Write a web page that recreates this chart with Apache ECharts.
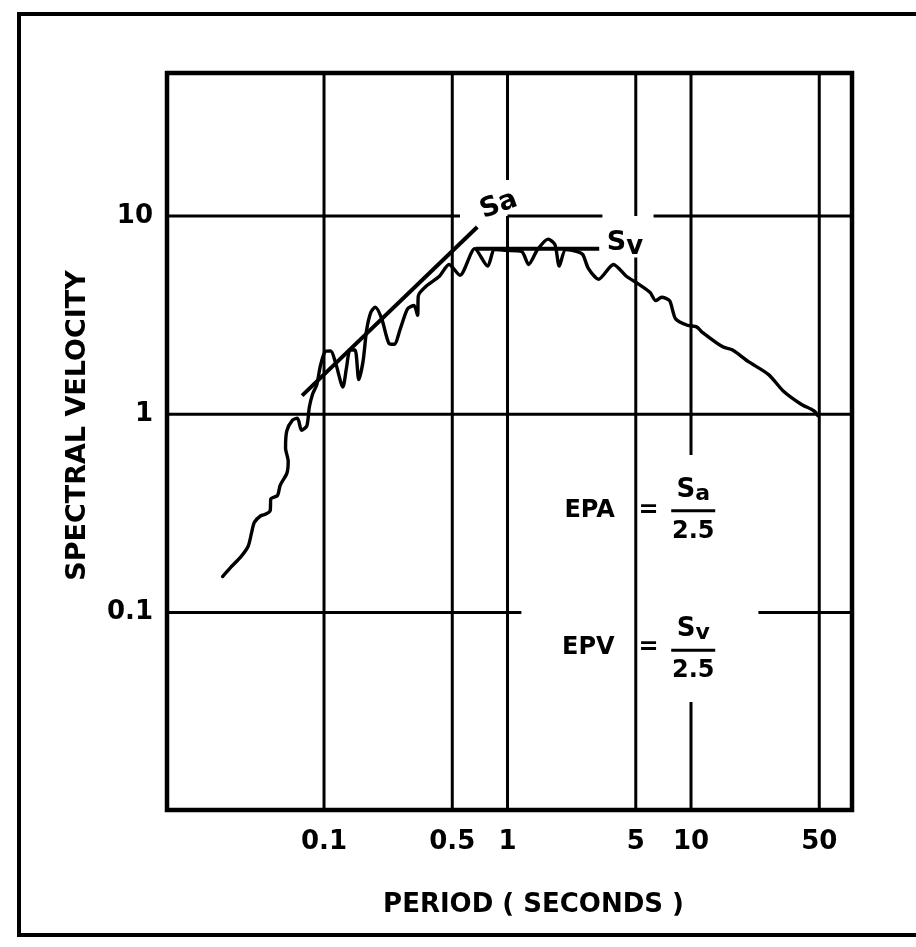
<!DOCTYPE html>
<html>
<head>
<meta charset="utf-8">
<script src="https://cdn.jsdelivr.net/npm/echarts@6/dist/echarts.min.js"></script>
<style>
  html, body { margin: 0; padding: 0; background: #fff; }
  #chart { width: 916px; height: 947px; }
</style>
</head>
<body>
<div id="chart"></div>
<script>
// Axis ticks
const periodTicks = [0.1, 0.5, 1, 5, 10, 50];
const velocityTicks = [0.1, 1, 10];

// Response spectrum: period (s) and spectral velocity
const period = [
  0.028, 0.031, 0.0352, 0.0386, 0.0403, 0.0417, 0.0452, 0.0482, 0.0509, 0.0513,
  0.0558, 0.0577, 0.0627, 0.0638, 0.0617, 0.0627, 0.0673, 0.0717, 0.0754, 0.0806,
  0.0831, 0.0866, 0.0914, 0.0954, 0.1016, 0.1088, 0.1157, 0.1267, 0.1325, 0.1387,
  0.1476, 0.1546, 0.1632, 0.1706, 0.1801, 0.1901, 0.2062, 0.2258, 0.2415, 0.2606,
  0.2852, 0.3094, 0.3236, 0.3266, 0.3624, 0.424, 0.480, 0.551, 0.663, 0.780,
  0.850, 0.979, 1.192, 1.303, 1.457, 1.663, 1.813, 1.914, 2.076, 2.373,
  2.570, 2.757, 3.132, 3.779, 4.427, 5.017, 5.970, 6.425, 6.922, 7.642,
  8.236, 9.552, 10.72, 11.44, 14.81, 16.85, 20.46, 26.49, 31.81, 39.83,
  46.66, 49.18
];
const velocity = [
  0.152, 0.169, 0.191, 0.216, 0.253, 0.285, 0.308, 0.314, 0.327, 0.375,
  0.390, 0.439, 0.504, 0.579, 0.677, 0.825, 0.935, 0.957, 0.831, 0.875,
  1.083, 1.262, 1.415, 1.747, 2.074, 2.088, 1.814, 1.373, 1.713, 2.113,
  2.113, 1.498, 1.850, 2.657, 3.281, 3.473, 3.038, 2.282, 2.256, 2.709,
  3.408, 3.539, 3.155, 3.967, 4.449, 4.955, 5.704, 5.029, 6.851, 5.595,
  6.774, 6.72, 6.643, 5.704, 6.774, 7.657, 7.173, 5.595, 6.774, 6.643,
  6.397, 5.449, 4.805, 5.704, 4.989, 4.626, 4.125, 3.746, 3.896, 3.746,
  3.038, 2.814, 2.763, 2.609, 2.197, 2.113, 1.850, 1.587, 1.312, 1.125,
  1.043, 0.985
];

// Constant spectral acceleration line (ends)
const saPeriod = [0.0759, 0.6844];
const saVelocity = [1.243, 8.815];

// Constant spectral velocity plateau (ends)
const svPeriod = [0.67, 3.16];
const svVelocity = [6.85, 6.85];

// ---------------------------------------------------------------
const FONT = 'DejaVu Sans';
const INK = '#000';
const X0 = 0.01394, X1 = 75.4;   // period range of the frame
const Y0 = 0.0101, Y1 = 52.7;    // velocity range of the frame

// grid rules, interrupted where the annotations sit
const vRules = [
  [0.1, [[Y0, Y1]]],
  [0.5, [[Y0, Y1]]],
  [1, [[Y0, 10], [15.2, Y1]]],
  [5, [[Y0, 6.18], [10, Y1]]],
  [10, [[Y0, 0.0354], [0.623, Y1]]],
  [50, [[Y0, Y1]]]
];
const hRules = [
  [10, [[X0, 0.551], [1, 3.29], [6.25, X1]]],
  [1, [[X0, X1]]],
  [0.1, [[X0, 1.19], [23.3, X1]]]
];

const series = [];
function rule(points) {
  series.push({
    type: 'line', data: points, symbol: 'none', silent: true, z: 1,
    lineStyle: { color: INK, width: 3 }
  });
}
vRules.forEach(([t, spans]) => spans.forEach(([a, b]) => rule([[t, a], [t, b]])));
hRules.forEach(([v, spans]) => spans.forEach(([a, b]) => rule([[a, v], [b, v]])));

// spectrum curve
series.push({
  type: 'line', name: 'spectrum',
  data: period.map((t, i) => [t, velocity[i]]),
  symbol: 'none', smooth: 0.25, z: 3,
  lineStyle: { color: INK, width: 3.4, cap: 'round', join: 'round' }
});
// Sa and Sv lines
series.push({
  type: 'line', data: saPeriod.map((t, i) => [t, saVelocity[i]]),
  symbol: 'none', z: 3, lineStyle: { color: INK, width: 4 }
});
series.push({
  type: 'line', data: svPeriod.map((t, i) => [t, svVelocity[i]]),
  symbol: 'none', z: 3, lineStyle: { color: INK, width: 4 }
});

// text annotations anchored in data space
const txt = (size, extra) => Object.assign(
  { fontFamily: FONT, fontWeight: 'bold', fontSize: size, color: INK }, extra || {});
const subRich = {
  s: txt(27, { lineHeight: 36, verticalAlign: 'middle' }),
  b: txt(26, { lineHeight: 26, verticalAlign: 'bottom' })
};
const fracRich = {
  s: txt(26, { lineHeight: 30 }),
  b: txt(22, { lineHeight: 22, verticalAlign: 'bottom' }),
  bar: { width: 44, height: 3, backgroundColor: INK, lineHeight: 12 },
  d: txt(24, { lineHeight: 30 })
};
function note(pos, formatter, extra) {
  return {
    value: pos,
    label: Object.assign({
      show: true, position: 'inside', formatter, opacity: 1,
      fontFamily: FONT, fontWeight: 'bold', fontSize: 24, color: INK,
      align: 'center', verticalAlign: 'middle'
    }, extra || {})
  };
}
series.push({
  type: 'scatter', symbolSize: 0, silent: true, z: 4,
  itemStyle: { opacity: 1, color: INK },
  data: [
    note([0.897, 11.36], '{s|Sa}', { rich: subRich, rotate: 20 }),
    note([4.37, 7.34], '{s|S}{b|v}', { rich: subRich }),
    note([2.80, 0.326], 'EPA'),
    note([5.87, 0.326], '='),
    note([10.28, 0.326], '{s|S}{b|a}\n{bar|}\n{d|2.5}', { rich: fracRich }),
    note([2.757, 0.0662], 'EPV'),
    note([5.87, 0.0666], '='),
    note([10.28, 0.0646], '{s|S}{b|v}\n{bar|}\n{d|2.5}', { rich: fracRich })
  ]
});

const chart = echarts.init(document.getElementById('chart'), null, { renderer: 'canvas' });
chart.setOption({
  animation: false,
  backgroundColor: '#fff',
  grid: {
    left: 167, right: 64, top: 73, bottom: 137,
    show: true, borderColor: INK, borderWidth: 4.5, backgroundColor: 'transparent'
  },
  xAxis: {
    type: 'log', logBase: 10, min: X0, max: X1,
    axisLine: { show: false }, axisTick: { show: false }, splitLine: { show: false },
    axisLabel: Object.assign(txt(26), {
      customValues: periodTicks, margin: 19,
      formatter: v => String(+v.toPrecision(3))
    }),
    name: 'PERIOD ( SECONDS )', nameLocation: 'middle', nameGap: 82,
    nameTextStyle: txt(26, { padding: [0, 0, 0, 48] })
  },
  yAxis: {
    type: 'log', logBase: 10, min: Y0, max: Y1,
    axisLine: { show: false }, axisTick: { show: false }, splitLine: { show: false },
    axisLabel: Object.assign(txt(26), {
      customValues: velocityTicks, margin: 14,
      formatter: v => String(+v.toPrecision(3))
    }),
    name: 'SPECTRAL VELOCITY', nameLocation: 'middle', nameGap: 76, nameRotate: 90,
    nameTextStyle: txt(27, { padding: [0, 0, 0, 32] })
  },
  graphic: [{
    type: 'rect', silent: true, z: -1,
    shape: { x: 19, y: 14, width: 940, height: 921 },
    style: { fill: 'none', stroke: INK, lineWidth: 4 }
  }],
  series
});
</script>
</body>
</html>
